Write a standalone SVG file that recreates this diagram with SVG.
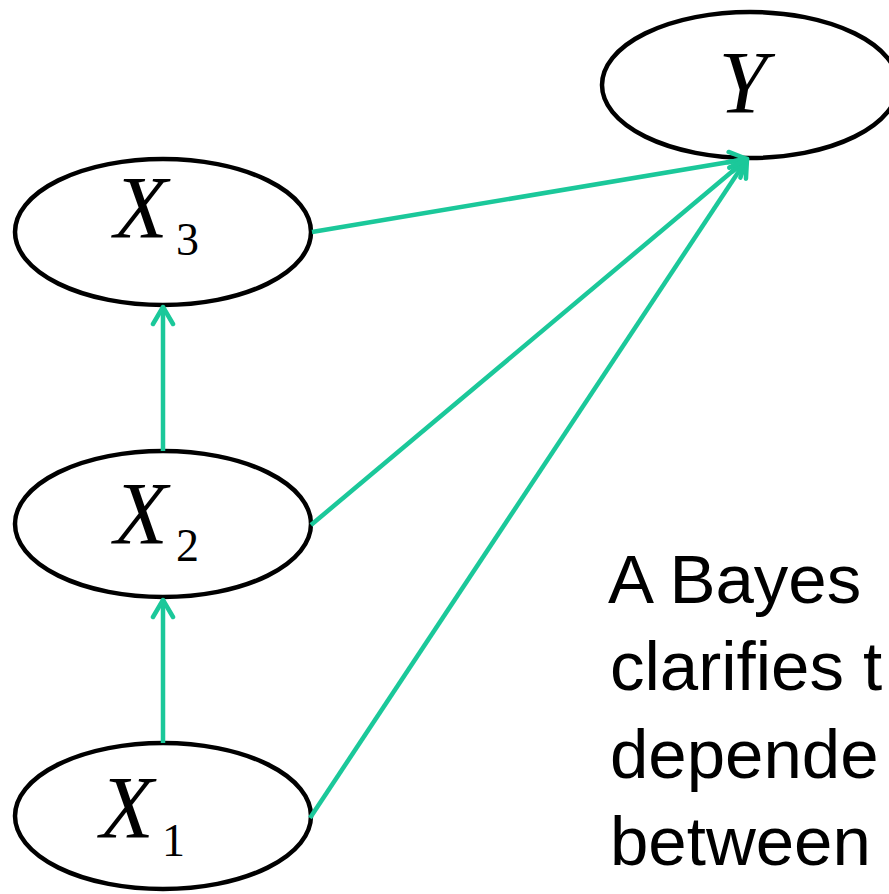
<svg xmlns="http://www.w3.org/2000/svg" width="889" height="894" viewBox="0 0 889 894">
<defs>
<style>
.node{fill:#fff;stroke:#000;stroke-width:4.5}
.edge{fill:none;stroke:#1BC89A;stroke-width:4.5;marker-end:url(#arr)}
.var{font-family:"Liberation Serif","Times New Roman",serif;font-style:italic;font-size:88px;fill:#000}
.sub{font-family:"Liberation Serif","Times New Roman",serif;font-size:46px;fill:#000}
.body{font-family:"Liberation Sans",Arial,sans-serif;font-size:69px;fill:#000}
</style>
<marker id="arr" viewBox="0 0 26 26" refX="22" refY="13" markerWidth="26" markerHeight="26" markerUnits="userSpaceOnUse" orient="auto">
<path d="M5,3 L22,13 L5,23" fill="none" stroke="#1BC89A" stroke-width="4.5" stroke-linecap="round" stroke-linejoin="round"/>
</marker>
</defs>
<rect width="889" height="894" fill="#fff"/>
<g id="nodeY"><ellipse class="node" cx="750" cy="85" rx="148" ry="73"/><text class="var" x="743" y="112" text-anchor="middle">Y</text></g>
<g id="nodeX3"><ellipse class="node" cx="163" cy="232" rx="148" ry="73"/><text class="var" x="114" y="237">X</text><text class="sub" x="176" y="255">3</text></g>
<g id="nodeX2"><ellipse class="node" cx="163" cy="524" rx="148" ry="73"/><text class="var" x="114" y="543">X</text><text class="sub" x="176" y="561">2</text></g>
<g id="nodeX1"><ellipse class="node" cx="163" cy="816" rx="148" ry="73"/><text class="var" x="100" y="837">X</text><text class="sub" x="162" y="856">1</text></g>
<g id="connectors">
<line class="edge" x1="312" y1="232" x2="747" y2="159"/>
<line class="edge" x1="311" y1="525" x2="747" y2="159"/>
<line class="edge" x1="310" y1="818" x2="747" y2="159"/>
<line class="edge" x1="163" y1="743" x2="163" y2="600"/>
<line class="edge" x1="163" y1="451" x2="163" y2="307"/>
</g>
<g id="caption">
<text class="body" x="608" y="603">A Bayes</text>
<text class="body" x="610" y="690">clarifies t</text>
<text class="body" x="610" y="778">depende</text>
<text class="body" x="610" y="865">between</text>
</g>
</svg>
